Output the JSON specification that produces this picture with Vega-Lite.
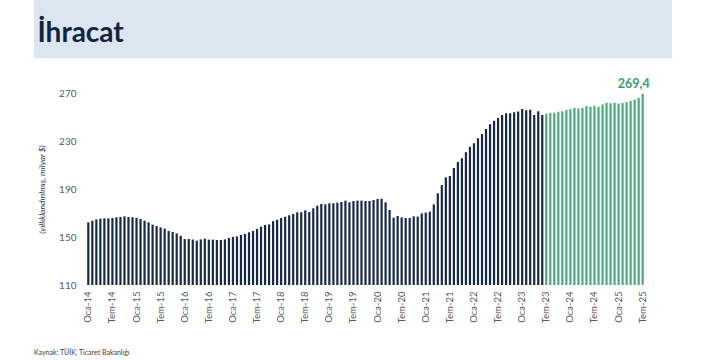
{
  "$schema": "https://vega.github.io/schema/vega-lite/v6.json",
  "background": "white",
  "padding": {"left": 34, "right": 33, "top": 0, "bottom": 0},
  "spacing": 35,
  "align": "none",
  "bounds": "flush",
  "config": {
    "view": {"stroke": null},
    "font": "Lato",
    "locale": {"number": {"decimal": ",", "thousands": ".", "grouping": [3], "currency": ["", " TL"]}}
  },
  "title": {"text": "Kaynak: TÜİK, Ticaret Bakanlığı", "orient": "bottom", "anchor": "start", "fontSize": 7, "fontWeight": "normal", "color": "#404040", "offset": 26, "font": "Lato"},
  "vconcat": [
    {
      "width": 638,
      "height": 58,
      "view": {"fill": "#dce6f1", "stroke": null},
      "data": {"values": [{"t": "İhracat"}]},
      "mark": {"type": "rect", "opacity": 0},
      "encoding": {
        "x": {
          "field": "t", "type": "nominal",
          "axis": {
            "orient": "top", "labels": false, "ticks": false, "domain": false, "grid": false,
            "title": "İhracat", "titleX": 3, "titleY": 41, "titleAlign": "left", "titleAnchor": "start",
            "titleBaseline": "alphabetic", "titleFontSize": 28, "titleFontWeight": "bold",
            "titleColor": "#14243f", "titleFont": "Lato", "titlePadding": 0
          }
        }
      }
    },
    {
      "width": 611,
      "height": 192,
      "data": {"values": [
        {"ay": "Oca-14", "deger": 162.2, "donem": "önce"},
        {"ay": "Şub-14", "deger": 163.6, "donem": "önce"},
        {"ay": "Mar-14", "deger": 164.7, "donem": "önce"},
        {"ay": "Nis-14", "deger": 165.3, "donem": "önce"},
        {"ay": "May-14", "deger": 165.5, "donem": "önce"},
        {"ay": "Haz-14", "deger": 165.5, "donem": "önce"},
        {"ay": "Tem-14", "deger": 165.8, "donem": "önce"},
        {"ay": "Ağu-14", "deger": 166.4, "donem": "önce"},
        {"ay": "Eyl-14", "deger": 166.7, "donem": "önce"},
        {"ay": "Eki-14", "deger": 167.2, "donem": "önce"},
        {"ay": "Kas-14", "deger": 166.7, "donem": "önce"},
        {"ay": "Ara-14", "deger": 166.5, "donem": "önce"},
        {"ay": "Oca-15", "deger": 166.0, "donem": "önce"},
        {"ay": "Şub-15", "deger": 165.0, "donem": "önce"},
        {"ay": "Mar-15", "deger": 163.6, "donem": "önce"},
        {"ay": "Nis-15", "deger": 162.2, "donem": "önce"},
        {"ay": "May-15", "deger": 160.3, "donem": "önce"},
        {"ay": "Haz-15", "deger": 159.2, "donem": "önce"},
        {"ay": "Tem-15", "deger": 158.0, "donem": "önce"},
        {"ay": "Ağu-15", "deger": 157.0, "donem": "önce"},
        {"ay": "Eyl-15", "deger": 155.0, "donem": "önce"},
        {"ay": "Eki-15", "deger": 154.2, "donem": "önce"},
        {"ay": "Kas-15", "deger": 153.0, "donem": "önce"},
        {"ay": "Ara-15", "deger": 151.0, "donem": "önce"},
        {"ay": "Oca-16", "deger": 148.3, "donem": "önce"},
        {"ay": "Şub-16", "deger": 148.3, "donem": "önce"},
        {"ay": "Mar-16", "deger": 147.9, "donem": "önce"},
        {"ay": "Nis-16", "deger": 147.0, "donem": "önce"},
        {"ay": "May-16", "deger": 148.0, "donem": "önce"},
        {"ay": "Haz-16", "deger": 148.6, "donem": "önce"},
        {"ay": "Tem-16", "deger": 147.8, "donem": "önce"},
        {"ay": "Ağu-16", "deger": 147.8, "donem": "önce"},
        {"ay": "Eyl-16", "deger": 147.5, "donem": "önce"},
        {"ay": "Eki-16", "deger": 147.5, "donem": "önce"},
        {"ay": "Kas-16", "deger": 148.0, "donem": "önce"},
        {"ay": "Ara-16", "deger": 149.2, "donem": "önce"},
        {"ay": "Oca-17", "deger": 150.0, "donem": "önce"},
        {"ay": "Şub-17", "deger": 150.5, "donem": "önce"},
        {"ay": "Mar-17", "deger": 151.7, "donem": "önce"},
        {"ay": "Nis-17", "deger": 152.5, "donem": "önce"},
        {"ay": "May-17", "deger": 153.9, "donem": "önce"},
        {"ay": "Haz-17", "deger": 155.0, "donem": "önce"},
        {"ay": "Tem-17", "deger": 156.7, "donem": "önce"},
        {"ay": "Ağu-17", "deger": 158.6, "donem": "önce"},
        {"ay": "Eyl-17", "deger": 160.0, "donem": "önce"},
        {"ay": "Eki-17", "deger": 160.5, "donem": "önce"},
        {"ay": "Kas-17", "deger": 163.2, "donem": "önce"},
        {"ay": "Ara-17", "deger": 164.5, "donem": "önce"},
        {"ay": "Oca-18", "deger": 165.8, "donem": "önce"},
        {"ay": "Şub-18", "deger": 166.9, "donem": "önce"},
        {"ay": "Mar-18", "deger": 168.1, "donem": "önce"},
        {"ay": "Nis-18", "deger": 169.2, "donem": "önce"},
        {"ay": "May-18", "deger": 170.6, "donem": "önce"},
        {"ay": "Haz-18", "deger": 170.6, "donem": "önce"},
        {"ay": "Tem-18", "deger": 172.2, "donem": "önce"},
        {"ay": "Ağu-18", "deger": 170.8, "donem": "önce"},
        {"ay": "Eyl-18", "deger": 173.9, "donem": "önce"},
        {"ay": "Eki-18", "deger": 176.1, "donem": "önce"},
        {"ay": "Kas-18", "deger": 177.5, "donem": "önce"},
        {"ay": "Ara-18", "deger": 177.2, "donem": "önce"},
        {"ay": "Oca-19", "deger": 178.1, "donem": "önce"},
        {"ay": "Şub-19", "deger": 178.1, "donem": "önce"},
        {"ay": "Mar-19", "deger": 178.6, "donem": "önce"},
        {"ay": "Nis-19", "deger": 179.2, "donem": "önce"},
        {"ay": "May-19", "deger": 180.3, "donem": "önce"},
        {"ay": "Haz-19", "deger": 178.9, "donem": "önce"},
        {"ay": "Tem-19", "deger": 180.0, "donem": "önce"},
        {"ay": "Ağu-19", "deger": 180.3, "donem": "önce"},
        {"ay": "Eyl-19", "deger": 180.3, "donem": "önce"},
        {"ay": "Eki-19", "deger": 180.0, "donem": "önce"},
        {"ay": "Kas-19", "deger": 180.0, "donem": "önce"},
        {"ay": "Ara-19", "deger": 180.8, "donem": "önce"},
        {"ay": "Oca-20", "deger": 181.7, "donem": "önce"},
        {"ay": "Şub-20", "deger": 181.9, "donem": "önce"},
        {"ay": "Mar-20", "deger": 178.9, "donem": "önce"},
        {"ay": "Nis-20", "deger": 172.5, "donem": "önce"},
        {"ay": "May-20", "deger": 166.1, "donem": "önce"},
        {"ay": "Haz-20", "deger": 167.5, "donem": "önce"},
        {"ay": "Tem-20", "deger": 166.4, "donem": "önce"},
        {"ay": "Ağu-20", "deger": 165.8, "donem": "önce"},
        {"ay": "Eyl-20", "deger": 165.9, "donem": "önce"},
        {"ay": "Eki-20", "deger": 167.2, "donem": "önce"},
        {"ay": "Kas-20", "deger": 167.0, "donem": "önce"},
        {"ay": "Ara-20", "deger": 169.6, "donem": "önce"},
        {"ay": "Oca-21", "deger": 170.3, "donem": "önce"},
        {"ay": "Şub-21", "deger": 171.1, "donem": "önce"},
        {"ay": "Mar-21", "deger": 177.2, "donem": "önce"},
        {"ay": "Nis-21", "deger": 186.4, "donem": "önce"},
        {"ay": "May-21", "deger": 193.3, "donem": "önce"},
        {"ay": "Haz-21", "deger": 199.7, "donem": "önce"},
        {"ay": "Tem-21", "deger": 200.8, "donem": "önce"},
        {"ay": "Ağu-21", "deger": 207.5, "donem": "önce"},
        {"ay": "Eyl-21", "deger": 212.5, "donem": "önce"},
        {"ay": "Eki-21", "deger": 215.6, "donem": "önce"},
        {"ay": "Kas-21", "deger": 220.6, "donem": "önce"},
        {"ay": "Ara-21", "deger": 225.2, "donem": "önce"},
        {"ay": "Oca-22", "deger": 228.1, "donem": "önce"},
        {"ay": "Şub-22", "deger": 232.2, "donem": "önce"},
        {"ay": "Mar-22", "deger": 235.8, "donem": "önce"},
        {"ay": "Nis-22", "deger": 240.0, "donem": "önce"},
        {"ay": "May-22", "deger": 243.9, "donem": "önce"},
        {"ay": "Haz-22", "deger": 246.9, "donem": "önce"},
        {"ay": "Tem-22", "deger": 249.2, "donem": "önce"},
        {"ay": "Ağu-22", "deger": 251.7, "donem": "önce"},
        {"ay": "Eyl-22", "deger": 253.1, "donem": "önce"},
        {"ay": "Eki-22", "deger": 253.1, "donem": "önce"},
        {"ay": "Kas-22", "deger": 253.9, "donem": "önce"},
        {"ay": "Ara-22", "deger": 254.6, "donem": "önce"},
        {"ay": "Oca-23", "deger": 256.7, "donem": "önce"},
        {"ay": "Şub-23", "deger": 255.6, "donem": "önce"},
        {"ay": "Mar-23", "deger": 256.1, "donem": "önce"},
        {"ay": "Nis-23", "deger": 251.7, "donem": "önce"},
        {"ay": "May-23", "deger": 254.7, "donem": "önce"},
        {"ay": "Haz-23", "deger": 251.7, "donem": "önce"},
        {"ay": "Tem-23", "deger": 252.8, "donem": "sonra"},
        {"ay": "Ağu-23", "deger": 253.3, "donem": "sonra"},
        {"ay": "Eyl-23", "deger": 253.6, "donem": "sonra"},
        {"ay": "Eki-23", "deger": 254.3, "donem": "sonra"},
        {"ay": "Kas-23", "deger": 254.8, "donem": "sonra"},
        {"ay": "Ara-23", "deger": 255.8, "donem": "sonra"},
        {"ay": "Oca-24", "deger": 256.4, "donem": "sonra"},
        {"ay": "Şub-24", "deger": 257.6, "donem": "sonra"},
        {"ay": "Mar-24", "deger": 257.0, "donem": "sonra"},
        {"ay": "Nis-24", "deger": 257.4, "donem": "sonra"},
        {"ay": "May-24", "deger": 259.2, "donem": "sonra"},
        {"ay": "Haz-24", "deger": 258.6, "donem": "sonra"},
        {"ay": "Tem-24", "deger": 259.3, "donem": "sonra"},
        {"ay": "Ağu-24", "deger": 258.5, "donem": "sonra"},
        {"ay": "Eyl-24", "deger": 260.5, "donem": "sonra"},
        {"ay": "Eki-24", "deger": 261.9, "donem": "sonra"},
        {"ay": "Kas-24", "deger": 261.5, "donem": "sonra"},
        {"ay": "Ara-24", "deger": 261.8, "donem": "sonra"},
        {"ay": "Oca-25", "deger": 261.3, "donem": "sonra"},
        {"ay": "Şub-25", "deger": 261.6, "donem": "sonra"},
        {"ay": "Mar-25", "deger": 262.4, "donem": "sonra"},
        {"ay": "Nis-25", "deger": 263.4, "donem": "sonra"},
        {"ay": "May-25", "deger": 264.6, "donem": "sonra"},
        {"ay": "Haz-25", "deger": 266.0, "donem": "sonra"},
        {"ay": "Tem-25", "deger": 269.4, "donem": "sonra"}
      ]},
      "encoding": {
        "x": {
          "field": "ay", "type": "ordinal", "sort": null,
          "scale": {"paddingInner": 0.45, "paddingOuter": 0.3, "range": [52, 611]},
          "axis": {
            "values": ["Oca-14", "Tem-14", "Oca-15", "Tem-15", "Oca-16", "Tem-16", "Oca-17", "Tem-17", "Oca-18", "Tem-18", "Oca-19", "Tem-19", "Oca-20", "Tem-20", "Oca-21", "Tem-21", "Oca-22", "Tem-22", "Oca-23", "Tem-23", "Oca-24", "Tem-24", "Oca-25", "Tem-25"],
            "labelAngle": -90, "title": null, "ticks": false, "domain": false,
            "labelFontSize": 9.5, "labelColor": "#595959", "labelPadding": 6, "labelOverlap": false
          }
        },
        "y": {
          "field": "deger", "type": "quantitative",
          "scale": {"domain": [110, 270], "nice": false, "zero": false},
          "axis": {
            "values": [110, 150, 190, 230, 270],
            "offset": -52,
            "title": "(yıllıklandırılmış, milyar $)",
            "grid": false, "ticks": false, "domain": false,
            "labelFontSize": 10, "labelColor": "#595959", "labelPadding": 10,
            "titleFontSize": 8.5, "titleFontStyle": "italic", "titleFontWeight": "normal",
            "titleColor": "#1f3050", "titlePadding": 12
          }
        }
      },
      "layer": [
        {
          "mark": {"type": "bar", "clip": true},
          "encoding": {
            "color": {"field": "donem", "type": "nominal", "scale": {"domain": ["önce", "sonra"], "range": ["#172a46", "#4aac7c"]}, "legend": null}
          }
        },
        {
          "transform": [{"filter": "datum.ay == 'Tem-25'"}],
          "mark": {"type": "text", "fontSize": 12.5, "fontWeight": "bold", "color": "#3a9e6e", "dx": -9, "dy": -10},
          "encoding": {
            "text": {"field": "deger", "type": "quantitative", "format": ".1f"}
          }
        }
      ]
    }
  ]
}
